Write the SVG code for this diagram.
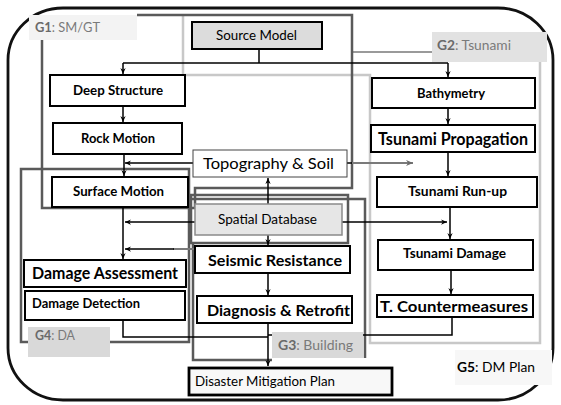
<svg xmlns="http://www.w3.org/2000/svg" width="561" height="405" viewBox="0 0 561 405">
<style>
.bg{fill:#ffffff}
.outer{fill:none;stroke:#111;stroke-width:2.8}
.gdark{fill:none;stroke:#5a5a5a;stroke-width:2.5}
.glight{fill:none;stroke:#c8c8c8;stroke-width:2.5}
.gmid{fill:none;stroke:#9a9a9a;stroke-width:2}
.node{fill:#fff;stroke:#000;stroke-width:2}
.grey{fill:#dcdcdc;stroke:#000;stroke-width:2}
.db{fill:#e6e6e6;stroke:#8a8a8a;stroke-width:1.5}
.topo{fill:#fff;stroke:#444;stroke-width:1}
.dmp{fill:#f8f8f8;stroke:#000;stroke-width:2.8}
.c{fill:none;stroke:#000;stroke-width:1.5}
.cg{fill:none;stroke:#7a7a7a;stroke-width:2}
text{font-family:Lato,"Liberation Sans",sans-serif;fill:#000}
.b{font-weight:bold}
.lbl{fill:#7a7a7a;font-size:13px}
.lblb{fill:#6a6a6a;font-weight:bold}
</style>
<defs>
<marker id="arr" viewBox="0 0 8 8" refX="8" refY="4" markerWidth="6" markerHeight="6" markerUnits="userSpaceOnUse" orient="auto">
<path d="M0,0.5 L8,4 L0,7.5 L2.5,4 Z" fill="#000"/>
</marker>
<marker id="arrg" viewBox="0 0 8 8" refX="8" refY="4" markerWidth="7" markerHeight="7" markerUnits="userSpaceOnUse" orient="auto">
<path d="M0,0.5 L8,4 L0,7.5 L2.5,4 Z" fill="#6a6a6a"/>
</marker>
</defs>
<rect class="bg" x="0" y="0" width="561" height="405"/>
<g id="G5-outline">
<rect class="outer" x="8" y="8" width="545" height="392" rx="55" ry="52"/>
</g>
<g id="group-outlines">
<path class="glight" d="M183,15 V75 H370 V343 H540 V62"/>
<path class="gmid" d="M352,52 H432"/>
<path class="gdark" d="M137,15 H352 V188 H195 V208 H42 V40"/>
<path class="gdark" d="M110,342 H189 V169 H21 V342 H28"/>
<rect class="gdark" x="191" y="195" width="157" height="48"/>
<path class="gdark" d="M192,199 H365 V358 M193,243 V360 H272"/>
</g>
<g id="connectors">
<path class="c" d="M259,49 V63"/>
<path class="c" d="M123,63 H448"/>
<path class="c" d="M123,63 V74" marker-end="url(#arr)"/>
<path class="c" d="M448,63 V77" marker-end="url(#arr)"/>
<path class="c" d="M123,106 V122" marker-end="url(#arr)"/>
<path class="c" d="M124,154 V176" marker-end="url(#arr)"/>
<path class="c" d="M193,163 H125" marker-end="url(#arr)"/>
<path class="c" d="M347,163 H352"/>
<path class="cg" d="M352,163 H413" marker-end="url(#arrg)"/>
<path class="c" d="M268,204 V178" marker-end="url(#arr)"/>
<path class="c" d="M268,235 V245" marker-end="url(#arr)"/>
<path class="c" d="M195,222 H125" marker-end="url(#arr)"/>
<path class="c" d="M123,207 V259" marker-end="url(#arr)"/>
<path class="cg" d="M195,249 H173"/>
<path class="c" d="M174,249 H125" marker-end="url(#arr)"/>
<path class="c" d="M342,222 H447" marker-end="url(#arr)"/>
<path class="c" d="M448,108 V124" marker-end="url(#arr)"/>
<path class="c" d="M448,152 V176" marker-end="url(#arr)"/>
<path class="c" d="M450,207 V239" marker-end="url(#arr)"/>
<path class="c" d="M451,270 V294" marker-end="url(#arr)"/>
<path class="c" d="M268,273 V295" marker-end="url(#arr)"/>
<path class="c" d="M268,323 V366" marker-end="url(#arr)"/>
<path class="c" d="M123,320 V337 H268"/>
<path class="c" d="M452,317 V335 H268"/>
</g>
<g id="source-model">
<rect class="grey" x="192" y="22" width="130" height="27"/>
<text x="216" y="40" font-size="13" textLength="81" lengthAdjust="spacingAndGlyphs">Source Model</text>
</g>
<g id="deep-structure">
<rect class="node" x="50" y="75" width="135" height="31"/>
<text class="b" x="73" y="95" font-size="13" textLength="90" lengthAdjust="spacingAndGlyphs">Deep Structure</text>
</g>
<g id="rock-motion">
<rect class="node" x="53" y="123" width="129" height="31"/>
<text class="b" x="81" y="143" font-size="13" textLength="74" lengthAdjust="spacingAndGlyphs">Rock Motion</text>
</g>
<g id="surface-motion">
<rect class="node" x="52" y="177" width="136" height="30"/>
<text class="b" x="73" y="196" font-size="13" textLength="91" lengthAdjust="spacingAndGlyphs">Surface Motion</text>
</g>
<g id="topography-soil">
<rect class="topo" x="193" y="150" width="154" height="27"/>
<text x="203" y="169" font-size="16" textLength="131" lengthAdjust="spacingAndGlyphs">Topography &amp; Soil</text>
</g>
<g id="spatial-database">
<rect class="db" x="195" y="204" width="147" height="31"/>
<text x="218" y="224" font-size="13" textLength="99" lengthAdjust="spacingAndGlyphs">Spatial Database</text>
</g>
<g id="damage-assessment">
<rect class="node" x="24" y="260" width="162" height="27"/>
<text class="b" x="32" y="279" font-size="17" textLength="146" lengthAdjust="spacingAndGlyphs">Damage Assessment</text>
</g>
<g id="damage-detection">
<rect class="node" x="25" y="291" width="160" height="29"/>
<text class="b" x="32" y="308" font-size="12.5" textLength="108" lengthAdjust="spacingAndGlyphs">Damage Detection</text>
</g>
<g id="seismic-resistance">
<rect class="node" x="195" y="246" width="155" height="27"/>
<text class="b" x="208" y="266" font-size="16" textLength="134" lengthAdjust="spacingAndGlyphs">Seismic Resistance</text>
</g>
<g id="diagnosis-retrofit">
<rect class="node" x="197" y="296" width="155" height="27"/>
<text class="b" x="207" y="316" font-size="16" textLength="143" lengthAdjust="spacingAndGlyphs">Diagnosis &amp; Retrofit</text>
</g>
<g id="disaster-mitigation-plan">
<rect class="dmp" x="189" y="368" width="203" height="27"/>
<text x="195" y="386" font-size="13" textLength="140" lengthAdjust="spacingAndGlyphs">Disaster Mitigation Plan</text>
</g>
<g id="bathymetry">
<rect class="node" x="372" y="78" width="163" height="30"/>
<text class="b" x="417" y="98" font-size="12.5" textLength="68" lengthAdjust="spacingAndGlyphs">Bathymetry</text>
</g>
<g id="tsunami-propagation">
<rect class="node" x="371" y="125" width="164" height="27"/>
<text class="b" x="378" y="145" font-size="16.5" textLength="150" lengthAdjust="spacingAndGlyphs">Tsunami Propagation</text>
</g>
<g id="tsunami-runup">
<rect class="node" x="377" y="177" width="160" height="30"/>
<text class="b" x="408" y="196" font-size="12.5" textLength="99" lengthAdjust="spacingAndGlyphs">Tsunami Run-up</text>
</g>
<g id="tsunami-damage">
<rect class="node" x="378" y="240" width="155" height="30"/>
<text class="b" x="403" y="258" font-size="12.5" textLength="103" lengthAdjust="spacingAndGlyphs">Tsunami Damage</text>
</g>
<g id="t-countermeasures">
<rect class="node" x="377" y="295" width="156" height="22"/>
<text class="b" x="380" y="312" font-size="16" textLength="148" lengthAdjust="spacingAndGlyphs">T. Countermeasures</text>
</g>
<g id="label-G1">
<rect x="29" y="15" width="108" height="25" fill="#f3f3f3"/>
<text class="lbl" x="35" y="32" textLength="65" lengthAdjust="spacingAndGlyphs"><tspan class="lblb">G1</tspan>: SM/GT</text>
</g>
<g id="label-G2">
<rect x="432" y="32" width="115" height="30" fill="#e2e2e2"/>
<text class="lbl" x="437" y="50" textLength="74" lengthAdjust="spacingAndGlyphs"><tspan class="lblb">G2</tspan>: Tsunami</text>
</g>
<g id="label-G3">
<rect x="272" y="332" width="91" height="26" fill="#d9d9d9"/>
<text class="lbl" x="278" y="350" textLength="75" lengthAdjust="spacingAndGlyphs"><tspan class="lblb">G3</tspan>: Building</text>
</g>
<g id="label-G4">
<rect x="28" y="327" width="82" height="30" fill="#d9d9d9"/>
<text class="lbl" x="35" y="340" textLength="40" lengthAdjust="spacingAndGlyphs"><tspan class="lblb">G4</tspan>: DA</text>
</g>
<g id="label-G5">
<rect x="455" y="350" width="97" height="35" fill="#f7f7f7"/>
<text x="457" y="372" font-size="13" fill="#333" textLength="78" lengthAdjust="spacingAndGlyphs"><tspan font-weight="bold">G5</tspan>: DM Plan</text>
</g>
</svg>
